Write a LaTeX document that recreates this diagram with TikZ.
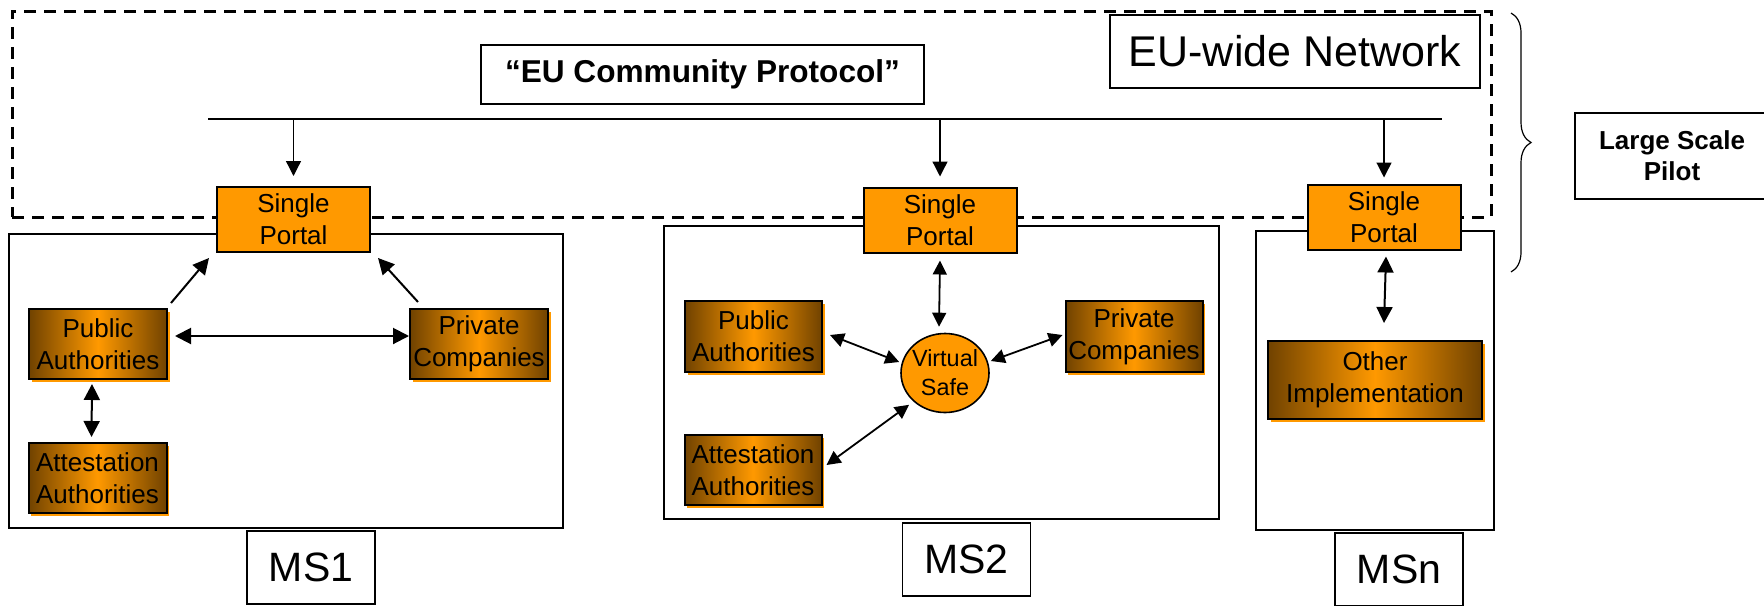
\documentclass[tikz,border=0pt]{standalone}
\usepackage{fontspec}
\setmainfont{Liberation Sans}
\usetikzlibrary{arrows.meta,shadows,decorations.pathreplacing,shapes.geometric}
\definecolor{orng}{HTML}{FF9900}
\definecolor{brn}{RGB}{112,66,0}
\begin{document}
\begin{tikzpicture}[x=0.5pt,y=-0.5pt,
  txt/.style={font=\fontsize{13}{16}\selectfont, align=center, inner sep=0pt},
  portal/.style={txt, draw=black, line width=1pt, fill=orng, minimum width=76.5pt, minimum height=32.5pt},
  actor/.style={txt, draw=black, line width=1pt, left color=brn, right color=brn, middle color=orng,
    drop shadow={shadow xshift=1.3pt, shadow yshift=-1.3pt, fill=orng, opacity=1},
    minimum width=69pt, minimum height=35pt},
  msbox/.style={draw=black, line width=0.8pt, inner sep=0pt},
  lab/.style={draw=black, line width=0.8pt, font=\fontsize{20.5}{24}\selectfont, minimum width=64pt, minimum height=36.5pt, inner sep=0pt},
  netframe/.style={draw=black, line width=1.5pt, dash pattern=on 6pt off 4pt, inner sep=0pt},
  busarr/.style={line width=0.65pt, -{Triangle[length=7.5pt,width=7.5pt]}},
  arr/.style={line width=1pt, -{Triangle[length=8pt,width=8pt]}},
  dbl/.style={line width=1pt, {Triangle[length=8pt,width=8pt]}-{Triangle[length=8pt,width=8pt]}},
  dblb/.style={line width=0.9pt, {Triangle[length=7pt,width=7pt]}-{Triangle[length=7pt,width=7pt]}},
]
\useasboundingbox (0,0) rectangle (1764,605);

% EU-wide network frame
\node[netframe, minimum width=739.5pt, minimum height=103pt] (net) at (751.5,114) {};

\node[draw=black, line width=0.8pt, minimum width=221.5pt, minimum height=29.5pt,
  font=\bfseries\fontsize{15.8}{19}\selectfont, inner sep=0pt] (protocol) at (702.5,74.5) {“EU Community Protocol”};
\node[draw=black, line width=0.8pt, minimum width=185pt, minimum height=36.5pt,
  font=\fontsize{21.5}{25}\selectfont, inner sep=0pt] (network) at (1295,51.5) {EU-wide Network};

\coordinate (busL) at (208,119);
\coordinate (busR) at (1442,119);
\draw[line width=0.8pt] (busL) -- (busR);

% member state boxes
\node[msbox, minimum width=277pt, minimum height=147pt] (ms1) at (286,381) {};
\node[msbox, minimum width=277.5pt, minimum height=146.5pt] (ms2) at (941.5,372.5) {};
\node[msbox, minimum width=119pt, minimum height=149.5pt] (msn) at (1375,380.5) {};

\node[lab] (l1) at (311,567.5) {MS1};
\node[lab] (l2) at (966.5,559.5) {MS2};
\node[lab] (l3) at (1399,569.5) {MSn};

% portals
\node[portal] (p1) at (293.5,219.5) {Single\\Portal};
\node[portal] (p2) at (940,220) {Single\\Portal};
\node[portal] (p3) at (1384,217) {Single\\Portal};

\draw[busarr] (p1.north |- busL) -- ([yshift=5pt]p1.north);
\draw[busarr] (p2.north |- busL) -- ([yshift=5pt]p2.north);
\draw[busarr] (p3.north |- busL) -- ([yshift=3pt]p3.north);

% MS1
\node[actor] (pa1) at (98,344) {Public\\Authorities};
\node[actor] (pc1) at (479,344) {Private\\Companies};
\node[actor] (aa1) at (97.5,478) {Attestation\\Authorities};

\draw[arr] ([shift={(3,-5)}]pa1.north east) -- ([shift={(-7,5)}]p1.south west);
\draw[arr] ([shift={(9,-6)}]pc1.north west) -- ([shift={(7,5)}]p1.south east);
\draw[dbl] ([shift={(7,-8)}]pa1.east) -- ([shift={(0,-8)}]pc1.west);
\draw[dbl] ([shift={(-6,4)}]pa1.south) -- ([shift={(-6,-5)}]aa1.north);

% MS2
\node[actor, minimum width=68.5pt, minimum height=35.5pt] (pa2) at (753.5,336.5) {Public\\Authorities};
\node[actor, minimum width=68.5pt, minimum height=35.5pt] (pc2) at (1134,336.5) {Private\\Companies};
\node[actor, minimum width=68.5pt, minimum height=35pt] (aa2) at (753,470) {Attestation\\Authorities};
\node[ellipse, draw=black, line width=0.8pt, fill=orng, font=\fontsize{11.7}{14.5}\selectfont, align=center,
  inner xsep=-1.5pt, inner ysep=0pt, minimum width=44pt, minimum height=39.5pt] (vs) at (945,373) {Virtual\\Safe};

\draw[dblb] ([shift={(0,7)}]p2.south) -- ([shift={(-6,-6)}]vs.north);
\draw[dblb] ([shift={(7,-1.5)}]pa2.east) -- ([shift={(-1,-11)}]vs.west);
\draw[dblb] ([shift={(-2,-1.5)}]pc2.west) -- ([shift={(1,-12)}]vs.east);
\draw[dblb] ([shift={(4,-5)}]aa2.east) -- ([shift={(-36,-8.5)}]vs.south);

% MSn
\node[actor, minimum width=107pt, minimum height=39pt] (oi) at (1375,380) {Other\\Implementation};
\draw[dbl] ([shift={(2,6)}]p3.south) -- ([shift={(9,-17)}]oi.north);

% brace and large scale pilot
\coordinate (brT) at (1511,13);
\coordinate (brB) at (1511,272);
\draw[line width=0.6pt, decorate, decoration={brace, amplitude=10pt}] (brT) -- (brB);
\node[draw=black, line width=0.8pt, minimum width=97pt, minimum height=43pt, inner sep=0pt,
  font=\bfseries\fontsize{13}{15.5}\selectfont, align=center] (lsp) at (1672,156) {Large Scale\\Pilot};
\end{tikzpicture}
\end{document}
